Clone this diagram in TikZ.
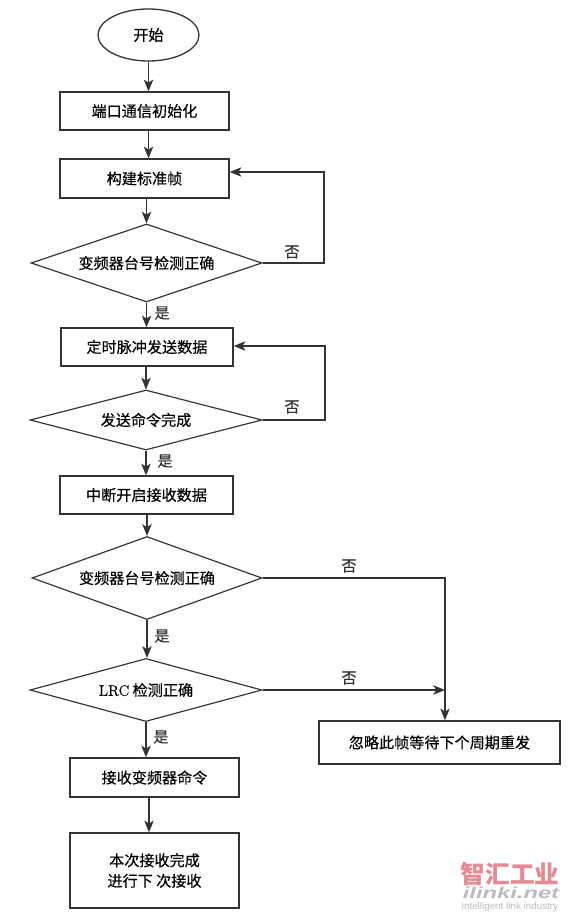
\documentclass[tikz,border=0pt]{standalone}
\usepackage{fontspec}
\newfontfamily\cjk[FakeBold=0.35]{Noto Sans CJK SC}
\newfontfamily\cjkmark{Noto Sans CJK SC}
\newfontfamily\wmsans{Liberation Sans}
\usetikzlibrary{arrows.meta,shapes.geometric}
\definecolor{inkgray}{HTML}{333333}
\definecolor{wmred}{HTML}{E58A92}
\definecolor{wmgray}{HTML}{B9BCC2}
\tikzset{
  flowbox/.style={draw=inkgray, line width=1.1pt, inner sep=0pt, align=center},
  flowtest/.style={draw=inkgray, line width=1pt, diamond, inner sep=0pt, aspect=3},
  flowlabel/.style={inner sep=0pt, text=inkgray},
  flowarrow/.style={draw=inkgray, line width=1.2pt, -{Stealth[length=10pt,width=8pt,inset=2.5pt]}},
}
\begin{document}
\begin{tikzpicture}[x=0.03cm, y=-0.03cm, every node/.style={font=\cjk\fontsize{12.9}{17.5}\selectfont}]
  \useasboundingbox (0,0) rectangle (571,917);
  % boxes
  \node[flowbox, ellipse, minimum width=3.03cm, minimum height=1.56cm] (start) at (148.5,35) {开始};
  \node[flowbox, minimum width=5.07cm, minimum height=1.14cm] (init) at (144.5,111) {端口通信初始化};
  \node[flowbox, minimum width=5.07cm, minimum height=1.17cm] (build) at (144.5,178.5) {构建标准帧};
  \node[flowtest, minimum width=6.93cm, minimum height=2.34cm] (testa) at (146.5,263) {变频器台号检测正确};
  \node[flowbox, minimum width=5.16cm, minimum height=1.14cm] (pulse) at (147,347) {定时脉冲发送数据};
  \node[flowtest, minimum width=6.96cm, minimum height=1.8cm] (testb) at (146,420) {发送命令完成};
  \node[flowbox, minimum width=5.19cm, minimum height=1.14cm] (irq) at (146.5,495) {中断开启接收数据};
  \node[flowtest, minimum width=6.9cm, minimum height=2.49cm] (testc) at (147,578) {变频器台号检测正确};
  \node[flowtest, minimum width=6.96cm, minimum height=1.89cm] (testd) at (146,690) {{\fontspec[FakeBold=0.35]{Latin Modern Roman}LRC} 检测正确};
  \node[flowbox, minimum width=5.07cm, minimum height=1.17cm] (recv) at (154.5,777.5) {接收变频器命令};
  \node[flowbox, minimum width=5.07cm, minimum height=2.25cm] (done) at (154.5,870.5) {本次接收完成\\进行下 次接收};
  \node[flowbox, minimum width=7.23cm, minimum height=1.29cm] (skip) at (439.5,742.5) {忽略此帧等待下个周期重发};
  % vertical flow
  \coordinate (recvout) at (149,797);
  \draw[flowarrow] (start.south) -- (start.south |- init.north);
  \draw[flowarrow] (init.south -| start.south) -- (start.south |- build.north);
  \draw[flowarrow] (build.south -| testa.north) -- (testa.north);
  \draw[flowarrow] (testa.south) -- (testa.south |- pulse.north);
  \draw[flowarrow] (pulse.south -| testb.north) -- (testb.north);
  \draw[flowarrow] (testb.south) -- (testb.south |- irq.north);
  \draw[flowarrow] (irq.south -| testc.north) -- (testc.north);
  \draw[flowarrow] (testc.south) -- (testc.south |- testd.north);
  \draw[flowarrow] (testd.south) -- (testd.south |- recv.north);
  \draw[flowarrow] (recvout) -- (recvout |- done.north);
  % loops back
  \coordinate (loopa) at (324,172);
  \coordinate (loopb) at (325,346);
  \coordinate (busc) at (445,578);
  \draw[flowarrow] (testa.east) -- (testa.east -| loopa) -- (loopa) -- (loopa -| build.east);
  \draw[flowarrow] (testb.east) -- (testb.east -| loopb) -- (loopb) -- (loopb -| pulse.east);
  \draw[flowarrow] (testc.east) -- (busc) -- (busc |- skip.north);
  \draw[flowarrow] (testd.east) -- (testd.east -| busc);
  % labels
  \node[flowlabel] (noa) at (292,252) {否};
  \node[flowlabel] (yesa) at (162,313) {是};
  \node[flowlabel] (nob) at (292,407) {否};
  \node[flowlabel] (yesb) at (165,461) {是};
  \node[flowlabel] (noc) at (349,566) {否};
  \node[flowlabel] (yesc) at (162,636) {是};
  \node[flowlabel] (nod) at (349,678) {否};
  \node[flowlabel] (yesd) at (161,737) {是};
  % watermark
  \node[flowlabel, text=wmred, font=\cjkmark\bfseries\fontsize{21}{24}\selectfont] (wmname) at (510,874) {智汇工业};
  \node[flowlabel, text=wmgray, xscale=1.5, font=\wmsans\bfseries\itshape\fontsize{13.5}{14}\selectfont] (wmsite) at (511,893) {ilinki.net};
  \node[flowlabel, text=wmgray, font=\wmsans\fontsize{8.4}{9}\selectfont] (wmtag) at (510,906.5) {intelligent link industry};
\end{tikzpicture}
\end{document}
